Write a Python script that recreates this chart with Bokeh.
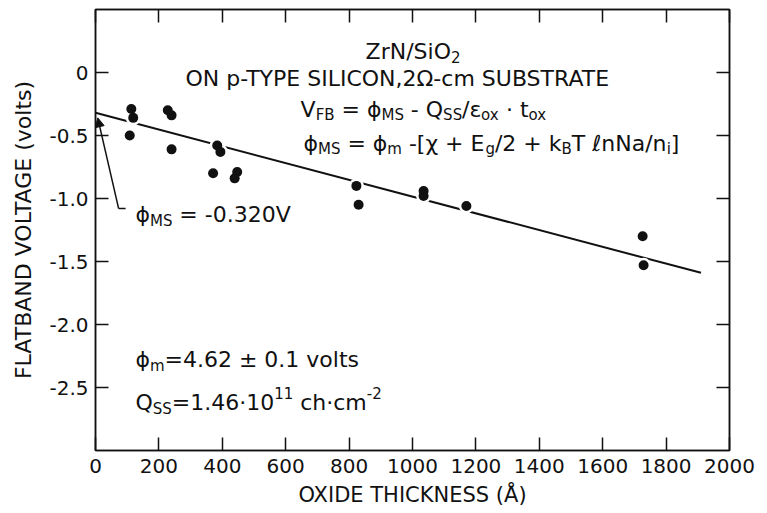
from bokeh.plotting import figure
from bokeh.models import (Range1d, LinearAxis, FixedTicker, Label, Arrow,
                          NormalHead, CustomJSTickFormatter)
from bokeh.embed import file_html
from bokeh.resources import INLINE

# ---------------- data ----------------
THICKNESS = [113, 119, 108, 228, 240, 240, 384, 394, 371, 447, 439,
             823, 830, 1035, 1035, 1170, 1726, 1729]
VFB = [-0.29, -0.36, -0.50, -0.30, -0.34, -0.61, -0.58, -0.63, -0.80, -0.79,
       -0.84, -0.90, -1.05, -0.94, -0.98, -1.06, -1.30, -1.53]
FIT_X = [0, 1910]
FIT_Y = [-0.32, -1.59]
X_TICKS = [0, 200, 400, 600, 800, 1000, 1200, 1400, 1600, 1800, 2000]
Y_TICKS = [0, -0.5, -1.0, -1.5, -2.0, -2.5]
Y_TICK_LABELS = ["0", "-0.5", "-1.0", "-1.5", "-2.0", "-2.5"]
X_TITLE = "OXIDE THICKNESS (Å)"
Y_TITLE = "FLATBAND VOLTAGE (volts)"

FONT = "DejaVu Sans"
INK = "#111111"

p = figure(width=767, height=513, x_range=Range1d(0, 2000), y_range=Range1d(-3.0, 0.5),
           output_backend="svg", toolbar_location=None,
           min_border_left=95, min_border_right=38, min_border_top=9, min_border_bottom=63)
p.grid.visible = False
p.outline_line_color = INK
p.outline_line_width = 1.5
p.background_fill_color = "white"
p.border_fill_color = "white"

xa = p.xaxis[0]
ya = p.yaxis[0]
xa.ticker = FixedTicker(ticks=X_TICKS)
ya.ticker = FixedTicker(ticks=Y_TICKS)
ya.major_label_overrides = {t: s for t, s in zip(Y_TICKS, Y_TICK_LABELS)}
xa.axis_label = X_TITLE
ya.axis_label = Y_TITLE
for ax in (xa, ya):
    ax.major_tick_in = 13
    ax.major_tick_out = 0
    ax.minor_tick_in = 0
    ax.minor_tick_out = 0
    ax.axis_line_width = 1.5
    ax.axis_line_color = INK
    ax.major_tick_line_width = 1.5
    ax.major_tick_line_color = INK
    ax.major_label_text_font = FONT
    ax.major_label_text_font_size = "20px"
    ax.major_label_text_color = INK
    ax.axis_label_text_font = FONT
    ax.axis_label_text_font_style = "normal"
    ax.axis_label_text_color = INK
xa.axis_label_text_font_size = "21px"
ya.axis_label_text_font_size = "22px"
xa.major_label_standoff = 8
xa.axis_label_standoff = 7
ya.major_label_standoff = 7
ya.axis_label_standoff = 10

for ticks, side in ((Y_TICKS, "right"), (X_TICKS, "above")):
    ax = LinearAxis(ticker=FixedTicker(ticks=ticks),
                    formatter=CustomJSTickFormatter(code="return ''"),
                    major_tick_in=13, major_tick_out=0, minor_tick_in=0, minor_tick_out=0,
                    axis_line_width=1.5, axis_line_color=INK,
                    major_tick_line_width=1.5, major_tick_line_color=INK,
                    major_label_standoff=0)
    p.add_layout(ax, side)

# fit line, white halos, dots
p.line(FIT_X, FIT_Y, line_color=INK, line_width=2)
p.scatter(THICKNESS, VFB, size=15, fill_color="white", line_color=None)
p.scatter(THICKNESS, VFB, size=10, fill_color=INK, line_color=None)

# ---------------- annotations ----------------
EM = {' ': .318, '-': .361, '=': .838, '/': .337, ',': .318, '.': .318, '·': .318,
      '[': .39, ']': .39, '+': .838, '±': .838, '(': .39, ')': .39,
      'A': .684, 'B': .686, 'C': .698, 'D': .770, 'E': .632, 'F': .575, 'I': .295,
      'L': .557, 'M': .863, 'N': .748, 'O': .787, 'P': .603, 'Q': .787, 'R': .695,
      'S': .635, 'T': .611, 'U': .732, 'V': .684, 'Y': .611, 'Z': .685,
      'a': .613, 'c': .550, 'g': .635, 'h': .634, 'i': .278, 'k': .579, 'l': .278,
      'm': .974, 'n': .634, 'o': .612, 'p': .635, 'r': .411, 's': .521, 't': .392,
      'v': .592, 'x': .592, 'ϕ': .66, 'ε': .52, 'χ': .62, 'Ω': .765, 'ℓ': .42}


def tw(s, size):
    return sum(EM.get(c, 0.636) for c in s) * size


def rich(x, y, parts, size=22):
    off = 0.0
    for txt, kind in parts:
        fs = size if kind == "n" else size * 0.68
        dy = 0 if kind == "n" else (-0.28 * size if kind == "sub" else 0.45 * size)
        lead = len(txt) - len(txt.lstrip(" "))
        off += tw(" " * lead, fs)
        body = txt.lstrip(" ")
        p.add_layout(Label(x=x, y=y, x_offset=off, y_offset=dy, text=body,
                           text_font=FONT, text_font_size=f"{fs:.1f}px",
                           text_color=INK, text_baseline="alphabetic", text_align="left"))
        off += tw(body, fs)


rich(852, 0.17, [("ZrN/SiO", "n"), ("2", "sub")])
rich(284, -0.05, [("ON p-TYPE SILICON,2Ω-cm SUBSTRATE", "n")])
rich(647, -0.29, [("V", "n"), ("FB", "sub"), (" = ϕ", "n"), ("MS", "sub"), (" - Q", "n"),
                  ("SS", "sub"), ("/ε", "n"), ("ox", "sub"), (" · t", "n"), ("ox", "sub")])
rich(656, -0.56, [("ϕ", "n"), ("MS", "sub"), (" = ϕ", "n"), ("m", "sub"), (" -[χ + E", "n"),
                  ("g", "sub"), ("/2 + k", "n"), ("B", "sub"), ("T ℓnNa/n", "n"), ("i", "sub"),
                  ("]", "n")])
rich(126, -1.13, [("ϕ", "n"), ("MS", "sub"), (" = -0.320V", "n")])
rich(126, -2.28, [("ϕ", "n"), ("m", "sub"), ("=4.62 ± 0.1 volts", "n")])
rich(126, -2.62, [("Q", "n"), ("SS", "sub"), ("=1.46·10", "n"), ("11", "sup"),
                  (" ch·cm", "n"), ("-2", "sup")])

# leader from the phi_MS note to the intercept
p.add_layout(Arrow(x_start=95, y_start=-1.08, x_end=73, y_end=-1.08, end=None,
                   line_color=INK, line_width=1.5))
p.add_layout(Arrow(x_start=73, y_start=-1.08, x_end=7, y_end=-0.36,
                   end=NormalHead(size=9, fill_color=INK, line_color=INK),
                   line_color=INK, line_width=1.5))

open("out.html", "w").write(file_html(p, INLINE))
